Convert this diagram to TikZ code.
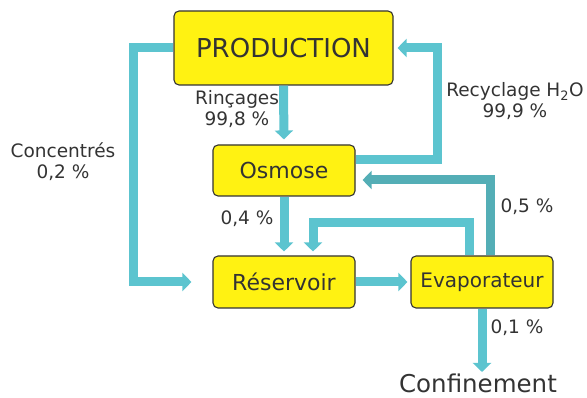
\documentclass[tikz,border=0pt]{standalone}
\usepackage{fontspec}
\setmainfont{DejaVu Sans}
\usetikzlibrary{arrows.meta}
\definecolor{boxyellow}{HTML}{FFF212}
\definecolor{flow}{HTML}{5CC4CF}
\definecolor{flowdark}{HTML}{4E9FA6}
\definecolor{txt}{HTML}{333333}
\begin{document}
\begin{tikzpicture}[x=1pt,y=-1pt,
  box/.style={draw=txt, line width=1.1pt, fill=boxyellow, rounded corners=5pt, inner sep=0pt, text=txt},
  flowarrow/.style={draw=flow, line width=9pt, -{Triangle[width=18pt,length=9pt]}, line join=miter},
  lbl/.style={text=txt, font=\fontsize{18.5}{21}\selectfont, align=center, inner sep=0pt}]
\useasboundingbox (0,0) rectangle (587,398);
\node[box, minimum width=219pt, minimum height=74pt, font=\fontsize{26}{30}\selectfont] (prod) at (283.5,48) {PRODUCTION};
\node[box, minimum width=142pt, minimum height=51pt, font=\fontsize{22}{26}\selectfont] (osm) at (284,170.5) {Osmose};
\node[box, minimum width=142pt, minimum height=52pt, font=\fontsize{22}{26}\selectfont] (res) at (284,282) {Réservoir};
\node[box, minimum width=142pt, minimum height=52pt, font=\fontsize{20}{24}\selectfont] (evap) at (482,282) {Evaporateur};
\node[text=txt, inner sep=0pt, font=\fontsize{24.5}{28}\selectfont] (conf) at (478,383) {Confinement};
\coordinate (cL) at (133,282);
\coordinate (cR) at (437,48);
\coordinate (cG) at (313,223);
\coordinate (confTop) at (482,372);
% arrows
\draw[flowarrow, shorten >=5pt] (prod.south) -- (osm.north);
\draw[flowarrow, shorten >=21pt] (prod.west) -| (cL) -- (res.west);
\draw[flowarrow, shorten >=4pt] ([yshift=10.5pt]osm.east) -| (cR) -- (prod.east);
\draw[flowarrow, draw=flowdark!60!flow, shorten >=7pt] ([xshift=8pt]evap.north) |- ([yshift=-9.5pt]osm.east);
\draw[flowarrow, shorten >=4pt] ([xshift=-13pt]evap.north) |- (cG) -- ([xshift=29pt]res.north);
\draw[flowarrow, shorten >=4pt] (osm.south) -- (res.north);
\draw[flowarrow, shorten >=3pt] (res.east) -- (evap.west);
\draw[flowarrow] (evap.south) -- (confTop);
% labels
\node[lbl] (l1) at (237,109) {Rinçages\\99,8 \%};
\node[lbl] (l2) at (63,162) {Concentrés\\0,2 \%};
\node[lbl] (l3) at (515,101) {Recyclage H\textsubscript{2}O\\99,9 \%};
\node[lbl] (l4) at (247,219) {0,4 \%};
\node[lbl] (l5) at (527,207) {0,5 \%};
\node[lbl] (l6) at (517,328) {0,1 \%};
\end{tikzpicture}
\end{document}
